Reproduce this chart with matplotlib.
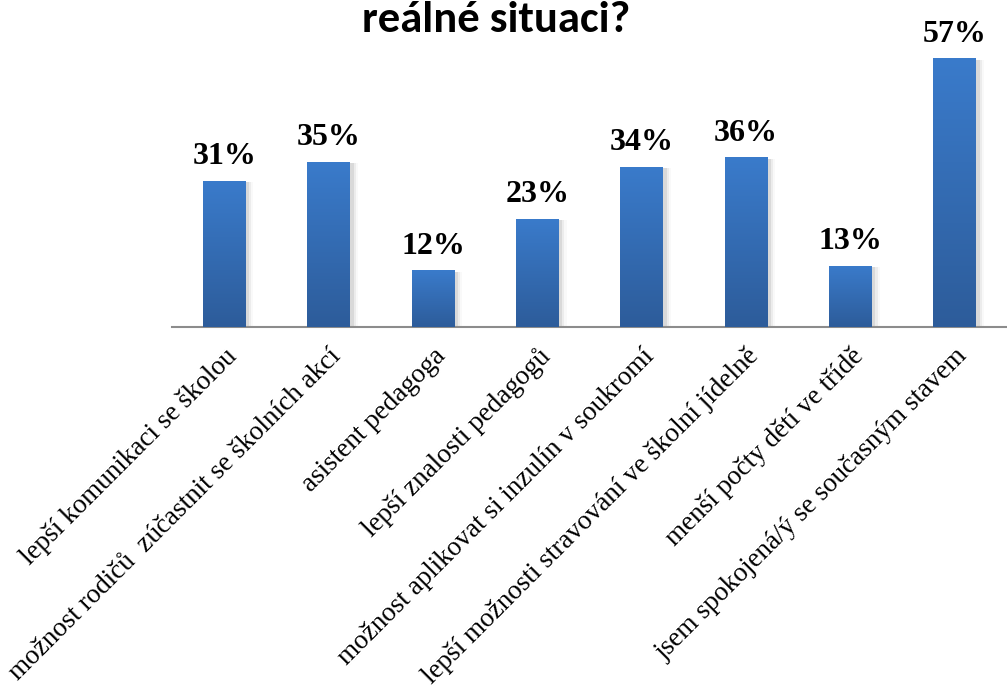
import numpy as np
import matplotlib
matplotlib.use("Agg")
import matplotlib.pyplot as plt
from matplotlib.colors import LinearSegmentedColormap
from matplotlib.patches import Rectangle
from matplotlib.font_manager import FontProperties

categories = [
    "lepší komunikaci se školou",
    "možnost rodičů  zúčastnit se školních akcí",
    "asistent pedagoga",
    "lepší znalosti pedagogů",
    "možnost aplikovat si inzulín v soukromí",
    "lepší možnosti stravování ve školní jídelně",
    "menší počty dětí ve třídě",
    "jsem spokojená/ý se současným stavem",
]
values = [31, 35, 12, 23, 34, 36, 13, 57]
title = "reálné situaci?"

serif = FontProperties(family="Liberation Serif", size=19.5)
serif_bold = FontProperties(family="Liberation Serif", weight="bold", size=23)

W, H = 1007, 687
fig = plt.figure(figsize=(W / 100, H / 100), dpi=100)
ax = fig.add_axes([172 / W, (H - 327) / H, (1007 - 172) / W, (327 - 44) / H])

x = np.arange(len(categories))
bar_w = 0.41

grad = LinearSegmentedColormap.from_list("bar", ["#2d5c9a", "#3a7bcb"])
gimg = np.linspace(0, 1, 256).reshape(-1, 1)

for xi, v in zip(x, values):
    # soft shadow to the right of each bar
    for k, a in enumerate([0.08, 0.05, 0.025]):
        sh = Rectangle((xi - bar_w / 2 + 0.02, 0), bar_w + 0.015 + 0.02 * k, v - 0.3,
                       facecolor="black", alpha=a, edgecolor="none", zorder=1)
        ax.add_patch(sh)
    bar = ax.bar(xi, v, width=bar_w, color="none", zorder=2)[0]
    im = ax.imshow(gimg, cmap=grad, aspect="auto", origin="lower",
                   extent=[xi - bar_w / 2, xi + bar_w / 2, 0, v], zorder=3)
    im.set_clip_path(bar)
    ax.text(xi, v + 2.0, f"{v}%", ha="center", va="bottom",
            fontproperties=serif_bold, color="black")

ax.set_xlim(-0.5, len(categories) - 0.5)
ax.set_ylim(0, 60)
ax.set_yticks([])
ax.set_xticks(x)
ax.set_xticklabels(categories, rotation=45, ha="right", va="top",
                   rotation_mode="anchor", fontproperties=serif)
ax.tick_params(axis="x", length=0, pad=12)
for s in ["top", "right", "left"]:
    ax.spines[s].set_visible(False)
ax.spines["bottom"].set_color("#8c8c8c")
ax.spines["bottom"].set_linewidth(1.5)

fig.text(496 / W, 1 - 20 / H, title, ha="center", va="center",
         family=["Carlito", "Lato"], fontweight="bold", fontsize=32)

fig.savefig("out.png", dpi=100)
